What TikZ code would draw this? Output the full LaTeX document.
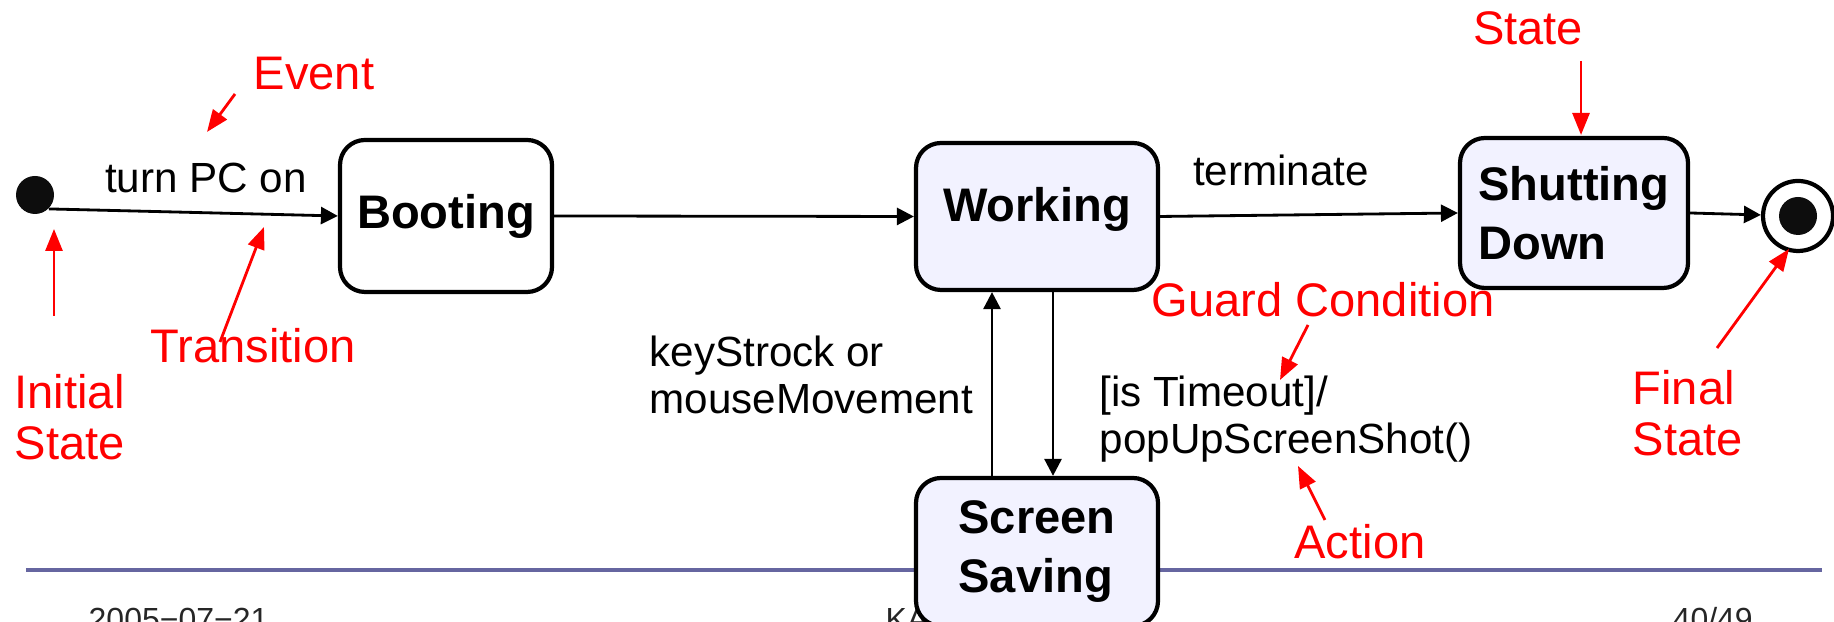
\documentclass[tikz,border=0pt]{standalone}
\usepackage{fontspec}
\setmainfont{Liberation Sans}
\usepackage{tikz}
\usetikzlibrary{positioning, arrows.meta, shapes.geometric}
\usepackage{xcolor}
\definecolor{statefill}{RGB}{242,242,255}
\definecolor{rulecol}{RGB}{102,102,160}

\tikzset{
  statebox/.style={draw, line width=1.2pt, rounded corners=0.25cm, fill=statefill, align=left, inner sep=0pt, font=\fontsize{13.4}{16.8}\selectfont\bfseries},
  trans/.style={line width=0.8pt, -{Triangle[length=0.17cm,width=0.17cm]}},
  note/.style={red, line width=0.8pt, -{Triangle[length=0.22cm,width=0.17cm]}},
  notetext/.style={red, align=left, inner sep=0pt, font=\fontsize{13.4}{14.5}\selectfont},
  evtext/.style={align=left, inner sep=0pt, font=\fontsize{12}{13.4}\selectfont},
  foot/.style={anchor=base west, inner sep=0pt, black!85, font=\fontsize{9.1}{10}\selectfont}
}

\begin{document}
\begin{tikzpicture}
\useasboundingbox (0,0) rectangle (18.34,6.22);
\clip (0,0) rectangle (18.34,6.22);
% footer
\draw[rulecol, line width=1.2pt] (0.26,0.52) -- (18.22,0.52);
\node[foot] (date) at (0.88,-0.09) {2005−07−21};
\node[foot] (org) at (8.85,-0.09) {KA};
\node[foot] (page) at (16.72,-0.09) {40/49};
% states
\node[circle, fill=black!95, minimum size=0.38cm, inner sep=0pt] (init) at (0.35,4.27) {};
\node[statebox, fill=white, minimum width=2.12cm, minimum height=1.52cm] (boot) at (4.46,4.06) {Booting};
\node[statebox, minimum width=2.42cm, minimum height=1.47cm, text depth=0.25cm] (work) at (10.37,4.055) {Working};
\node[statebox, minimum width=2.28cm, minimum height=1.50cm] (shut) at (15.74,4.09) {Shutting\\Down};
\node[statebox, minimum width=2.42cm, minimum height=1.48cm] (save) at (10.37,0.70) {Screen\\Saving};
\node[circle, draw, line width=1.2pt, minimum size=0.70cm, inner sep=0pt] (fin) at (17.98,4.06) {};
\fill[black!95] (fin) circle (0.19);
% transitions
\draw[trans] (init.-45) -- (boot.west);
\draw[trans] (boot.east) -- (work.west);
\draw[trans] (work.east) -- (shut.west);
\draw[trans] (shut.east) -- (fin);
\draw[trans] ([xshift=-0.45cm]save.north) -- ([xshift=-0.45cm]work.south);
\draw[trans] ([xshift=0.16cm]work.south) -- ([xshift=0.16cm]save.north);
\node[evtext] (turnon) at (2.06,4.44) {turn PC on};
\node[evtext] (term) at (12.81,4.52) {terminate};
\node[evtext, anchor=west] (wake) at (6.49,2.475) {keyStrock or\\mouseMovement};
\node[evtext, anchor=west] (sleep) at (10.99,2.03) {[is Timeout]/\\popUpScreenShot()};
% notes
\node[notetext] (event) at (3.14,5.48) {Event};
\node[notetext] (transn) at (2.53,2.76) {Transition};
\node[notetext, anchor=west] (initn) at (0.14,2.05) {Initial\\State};
\node[notetext] (staten) at (15.28,5.94) {State};
\node[notetext] (guard) at (13.23,3.22) {Guard Condition};
\node[notetext] (action) at (13.60,0.80) {Action};
\node[notetext, anchor=west] (finn) at (16.32,2.09) {Final\\State};
\coordinate (eventtip) at (2.07,4.90);
\coordinate (transtip) at (2.64,3.95);
\coordinate (inittip) at (0.54,3.93);
\coordinate (statetip) at (15.81,4.87);
\coordinate (guardtip) at (12.80,2.42);
\coordinate (actiontip) at (12.98,1.56);
\coordinate (fintip) at (17.89,3.73);
\draw[note] (2.35,5.28) -- (eventtip);
\draw[note] (2.20,2.80) -- (transtip);
\draw[note] (0.54,3.06) -- (inittip);
\draw[note] (15.81,5.61) -- (statetip);
\draw[note] (13.08,2.97) -- (guardtip);
\draw[note] (13.25,1.02) -- (actiontip);
\draw[note] (17.17,2.74) -- (fintip);
\end{tikzpicture}
\end{document}
